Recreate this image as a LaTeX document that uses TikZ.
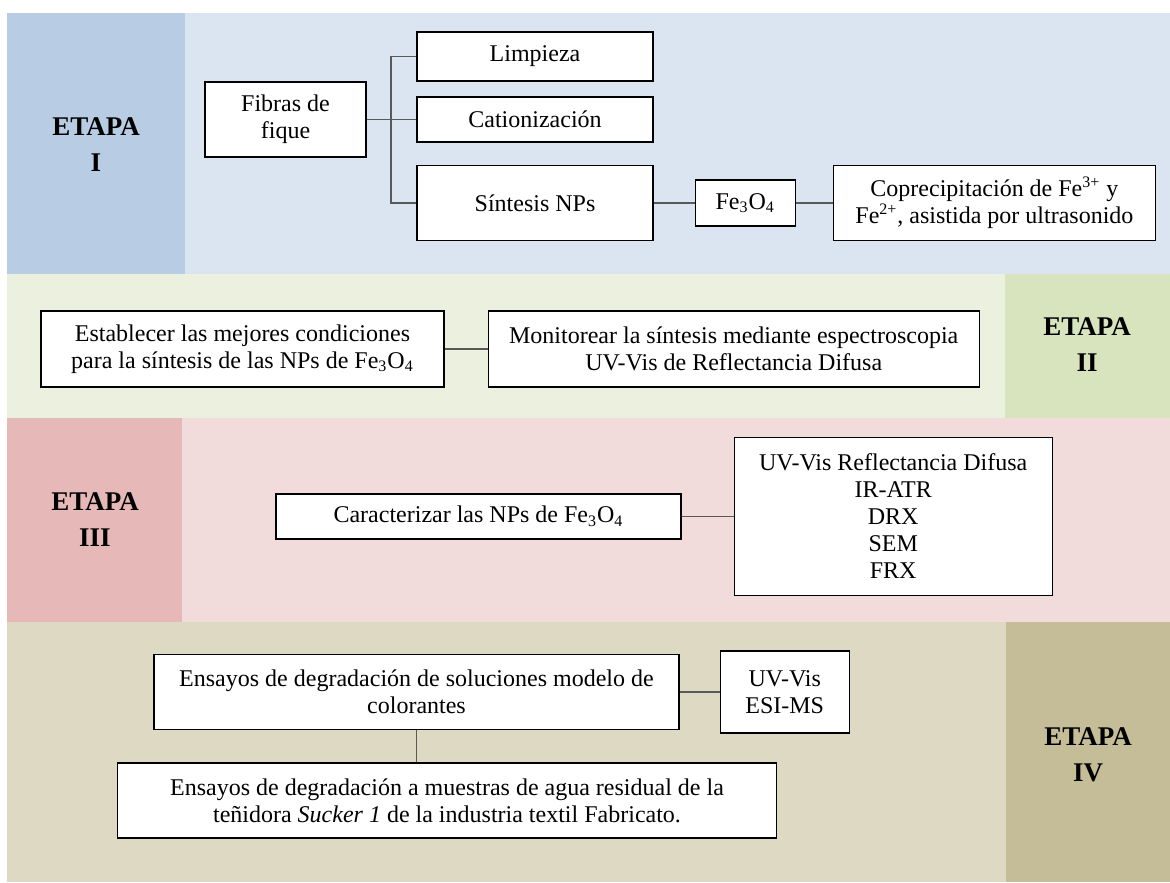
\documentclass[tikz,border=0pt]{standalone}
\usepackage{fontspec}
\setmainfont{Liberation Serif}
\usetikzlibrary{positioning}
\definecolor{azulfondo}{HTML}{DBE5F1}
\definecolor{azulcol}{HTML}{B8CCE4}
\definecolor{verdefondo}{HTML}{EBF1DE}
\definecolor{verdecol}{HTML}{D7E4BD}
\definecolor{rojofondo}{HTML}{F2DCDB}
\definecolor{rojocol}{HTML}{E6B9B8}
\definecolor{cafefondo}{HTML}{DDD9C3}
\definecolor{cafecol}{HTML}{C4BD97}

\begin{document}
\begin{tikzpicture}[x=0.5pt, y=-0.5pt, node distance=20pt,
    caja/.style={draw, line width=0.6pt, fill=white, align=center, inner sep=2pt, font=\fontsize{12}{13.5}\selectfont},
    etapa/.style={align=center, font=\fontsize{13.5}{18}\selectfont\bfseries},
    linea/.style={draw=black!65, line width=0.7pt}]
          \useasboundingbox (0,0) rectangle (1170,882);
          % fondos
          \fill[azulfondo] (7,13) rectangle (1170,274);
          \fill[azulcol] (7,13) rectangle (185,274);
          \fill[verdefondo] (7,274) rectangle (1170,418);
          \fill[verdecol] (1005,274) rectangle (1170,418);
          \fill[rojofondo] (7,418) rectangle (1170,622);
          \fill[rojocol] (7,418) rectangle (182,622);
          \fill[cafefondo] (7,622) rectangle (1170,882);
          \fill[cafecol] (1006,622) rectangle (1170,882);

          \node[etapa] (etapa_1) at (96,145) {ETAPA\\I};
          \node[etapa] (etapa_2) at (1087,345) {ETAPA\\II};
          \node[etapa] (etapa_3) at (95,519.5) {ETAPA\\III};
          \node[etapa] (etapa_4) at (1088,754.5) {ETAPA\\IV};

          % etapa I
          \node[caja, minimum width=80.5pt, minimum height=37.5pt] (fibras) at (285.5,119.5) {Fibras de\\fique};
          \node[caja, minimum width=118pt, minimum height=24.5pt] (limpieza) at (535,56.5) {Limpieza};
          \node[caja, minimum width=118pt, minimum height=22.5pt] (cation) at (535,119.5) {Cationización};
          \node[caja, minimum width=118pt, minimum height=37.5pt] (sintesis) at (535,203) {Síntesis NPs};
          \node[caja, minimum width=50pt, minimum height=23pt] (fe) [right=20.5pt of sintesis] {Fe\textsubscript{3}O\textsubscript{4}};
          \node[caja, minimum width=161pt, minimum height=37.5pt] (copre) [right=18.5pt of fe] {Coprecipitación de Fe\textsuperscript{3+} y\\Fe\textsuperscript{2+}, asistida por ultrasonido};
          \coordinate (rama) at (391,119.5);

          \draw[linea] (fibras) -- (cation);
          \draw[linea] (limpieza.west) -- (limpieza.west -| rama) -- (sintesis.west -| rama) -- (sintesis.west);
          \draw[linea] (sintesis) -- (fe) -- (copre);

          % etapa II
          \node[caja, minimum width=201.5pt, minimum height=38pt] (establecer) at (242.5,349) {Establecer las mejores condiciones\\para la síntesis de las NPs de Fe\textsubscript{3}O\textsubscript{4}};
          \node[caja, minimum width=245.5pt, minimum height=38pt] (monitorear) [right=21.5pt of establecer] {Monitorear la síntesis mediante espectroscopia\\UV-Vis de Reflectancia Difusa};
          \draw[linea] (establecer) -- (monitorear);

          % etapa III
          \node[caja, minimum width=202.5pt, minimum height=22.5pt] (caracterizar) at (478.5,516.5) {Caracterizar las NPs de Fe\textsubscript{3}O\textsubscript{4}};
          \node[caja, minimum width=159pt, minimum height=79pt] (tecnicas) [right=26pt of caracterizar] {UV-Vis Reflectancia Difusa\\IR-ATR\\DRX\\SEM\\FRX};
          \draw[linea] (caracterizar) -- (tecnicas);

          % etapa IV
          \node[caja, minimum width=262.5pt, minimum height=37.5pt] (solucion) at (416.5,692) {Ensayos de degradación de soluciones modelo de\\colorantes};
          \node[caja, minimum width=64.5pt, minimum height=41pt] (uvesi) [right=20pt of solucion] {UV-Vis\\ESI-MS};
          \node[caja, minimum width=329.5pt, minimum height=37.5pt] (muestras) at (447,800.5) {Ensayos de degradación a muestras de agua residual de la\\teñidora \textit{Sucker 1} de la industria textil Fabricato.};
          \draw[linea] (solucion) -- (uvesi);
          \draw[linea] (solucion.south) -- (solucion.south |- muestras.north);
        \end{tikzpicture}
\end{document}
